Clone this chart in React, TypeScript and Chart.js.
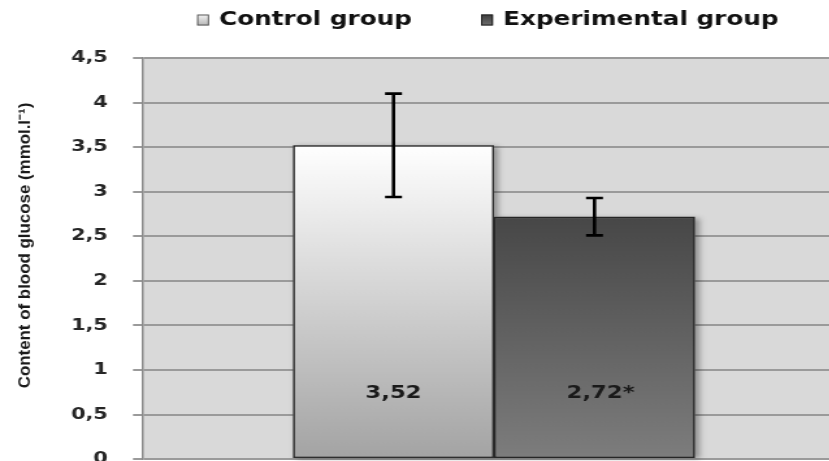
import React, { useEffect, useRef } from 'react';
import { Chart, registerables } from 'chart.js';

Chart.register(...registerables);

// ---- data ----
const categories = [''];
const seriesLabels = ['Control group', 'Experimental group'];
const controlValues = [3.52];
const experimentalValues = [2.72];
const controlErrors = [0.58];
const experimentalErrors = [0.21];
const valueMarks = ['', '*'];
const Y_MIN = 0;
const Y_MAX = 4.5;
const Y_STEP = 0.5;
const yTitle = 'Content of blood glucose (mmol.l\u207B\u00B9)';

// ---- style ----
const SX = 1.3; // horizontal stretch of the picture
const W = 650;
const H = 488;
const FONT = 'DejaVu Sans';
const barStops: [string, string][] = [
  ['#ffffff', '#a3a3a3'],
  ['#474747', '#7d7d7d'],
];
const legendStops: [string, string][] = [
  ['#f4f4f4', '#b5b5b5'],
  ['#3c3c3c', '#6e6e6e'],
];
const legendBorders = ['#5a5a5a', '#222222'];

const barFill = (stops: [string, string]) => (ctx: any) => {
  const chart = ctx.chart;
  const ys = chart.scales && chart.scales.y;
  if (!ys || !chart.chartArea) return stops[1];
  const v = typeof ctx.raw === 'number' ? ctx.raw : 0;
  const y0 = ys.getPixelForValue(v);
  const y1 = ys.getPixelForValue(0);
  if (!isFinite(y0) || !isFinite(y1) || y0 === y1) return stops[1];
  const g = chart.ctx.createLinearGradient(0, y0, 0, y1);
  g.addColorStop(0, stops[0]);
  g.addColorStop(1, stops[1]);
  return g;
};

const errors = [controlErrors, experimentalErrors];

const bgPlugin = {
  id: 'plotBg',
  beforeDraw(chart: any) {
    const { ctx, chartArea: a } = chart;
    ctx.save();
    ctx.fillStyle = '#d9d9d9';
    ctx.fillRect(a.left, a.top, a.right - a.left, a.bottom - a.top);
    ctx.restore();
  },
};

const shadowPlugin = {
  id: 'barShadow',
  beforeDatasetsDraw(chart: any) {
    const { ctx } = chart;
    chart.data.datasets.forEach((_d: any, i: number) => {
      const meta = chart.getDatasetMeta(i);
      meta.data.forEach((el: any) => {
        const { x, y, base, width } = el.getProps(['x', 'y', 'base', 'width'], true);
        ctx.save();
        ctx.shadowColor = 'rgba(0,0,0,0.35)';
        ctx.shadowBlur = 5;
        ctx.shadowOffsetX = 3;
        ctx.shadowOffsetY = 1;
        ctx.fillStyle = '#777';
        ctx.fillRect(x - width / 2, y, width, base - y);
        ctx.restore();
      });
    });
  },
};

const errorPlugin = {
  id: 'errorBars',
  afterDatasetsDraw(chart: any) {
    const { ctx, chartArea: a } = chart;
    const ys = chart.scales.y;
    chart.data.datasets.forEach((ds: any, i: number) => {
      const meta = chart.getDatasetMeta(i);
      meta.data.forEach((el: any, j: number) => {
        const v = ds.data[j];
        const e = errors[i][j];
        const x = el.x;
        const yt = ys.getPixelForValue(v + e);
        const yb = ys.getPixelForValue(v - e);
        ctx.save();
        ctx.strokeStyle = '#000';
        ctx.lineWidth = 2.6;
        ctx.lineCap = 'butt';
        ctx.beginPath();
        ctx.moveTo(x, yt);
        ctx.lineTo(x, yb);
        ctx.moveTo(x - 6.5, yt);
        ctx.lineTo(x + 6.5, yt);
        ctx.moveTo(x - 6.5, yb);
        ctx.lineTo(x + 6.5, yb);
        ctx.stroke();
        ctx.restore();

        // value label
        const txt = v.toFixed(2).replace('.', ',');
        const ly = a.top + 0.8375 * (a.bottom - a.top);
        ctx.save();
        ctx.font = `bold 17.5px "${FONT}"`;
        ctx.fillStyle = '#1a1a1a';
        ctx.textBaseline = 'middle';
        ctx.textAlign = 'left';
        const tw = ctx.measureText(txt).width;
        ctx.fillText(txt + valueMarks[i], x - tw / 2, ly);
        ctx.restore();
      });
    });
  },
};

const legendPlugin = {
  id: 'topLegend',
  afterDraw(chart: any) {
    const { ctx } = chart;
    let x = 151.6;
    const yMid = 20;
    ctx.save();
    ctx.font = `bold 19px "${FONT}"`;
    ctx.textBaseline = 'middle';
    ctx.textAlign = 'left';
    chart.data.datasets.forEach((ds: any, i: number) => {
      const bw = 9.2;
      const bh = 11;
      const g = ctx.createLinearGradient(0, yMid - bh / 2, 0, yMid + bh / 2);
      g.addColorStop(0, legendStops[i][0]);
      g.addColorStop(1, legendStops[i][1]);
      ctx.fillStyle = g;
      ctx.fillRect(x, yMid - bh / 2, bw, bh);
      ctx.strokeStyle = legendBorders[i];
      ctx.lineWidth = 1;
      ctx.strokeRect(x + 0.5, yMid - bh / 2 + 0.5, bw - 1, bh - 1);
      const tx = x + bw + 7.7;
      ctx.fillStyle = '#111';
      ctx.fillText(ds.label, tx, yMid);
      x = tx + ctx.measureText(ds.label).width + 53.2;
    });
    ctx.restore();
  },
};

const titlePlugin = {
  id: 'yTitle',
  afterDraw(chart: any) {
    const { ctx } = chart;
    ctx.save();
    ctx.translate(19.2, 245.5);
    ctx.rotate(-Math.PI / 2);
    ctx.scale(1, 1 / SX);
    ctx.font = 'bold 16.9px "Liberation Sans"';
    ctx.fillStyle = '#1a1a1a';
    ctx.textAlign = 'center';
    ctx.textBaseline = 'middle';
    ctx.fillText(yTitle, 0, 0);
    ctx.restore();
  },
};

export default function App() {
  const ref = useRef<HTMLCanvasElement>(null);
  useEffect(() => {
    const canvas = ref.current;
    if (!canvas) return;
    const chart = new Chart(canvas, {
      type: 'bar',
      data: {
        labels: categories,
        datasets: [
          {
            label: seriesLabels[0],
            data: controlValues,
            backgroundColor: barFill(barStops[0]),
            borderColor: '#2e2e2e',
            borderWidth: 1.5,
            borderSkipped: false,
            categoryPercentage: 0.5726,
            barPercentage: 1,
          },
          {
            label: seriesLabels[1],
            data: experimentalValues,
            backgroundColor: barFill(barStops[1]),
            borderColor: '#262626',
            borderWidth: 1.5,
            borderSkipped: false,
            categoryPercentage: 0.5726,
            barPercentage: 1,
          },
        ],
      },
      options: {
        animation: false,
        responsive: false,
        devicePixelRatio: 1,
        layout: { padding: { top: 58, bottom: 14, left: 0, right: 0 } },
        plugins: {
          legend: { display: false },
          tooltip: { enabled: false },
        },
        scales: {
          x: { display: false, grid: { display: false } },
          y: {
            min: Y_MIN,
            max: Y_MAX,
            ticks: {
              stepSize: Y_STEP,
              padding: 19.3,
              color: '#262626',
              font: { family: FONT, weight: 'bold', size: 16 },
              callback: (v: any) => String(v).replace('.', ','),
            },
            grid: { color: '#9a9a9a', lineWidth: 2, tickLength: 7.7, drawTicks: true },
            border: { color: '#8a8a8a', width: 1.5 },
            afterFit: (s: any) => {
              s.width = 110;
            },
          },
        },
      },
      plugins: [bgPlugin, shadowPlugin, errorPlugin, legendPlugin, titlePlugin],
    } as any);
    canvas.style.width = `${W * SX}px`;
    canvas.style.height = `${H}px`;
    return () => chart.destroy();
  }, []);
  return (
    <div
      style={{
        position: 'absolute',
        left: 0,
        top: 0,
        width: 829,
        height: 461,
        overflow: 'hidden',
        background: '#fff',
      }}
    >
      <canvas
        ref={ref}
        width={W}
        height={H}
        style={{ display: 'block', width: W * SX, height: H }}
      />
    </div>
  );
}
